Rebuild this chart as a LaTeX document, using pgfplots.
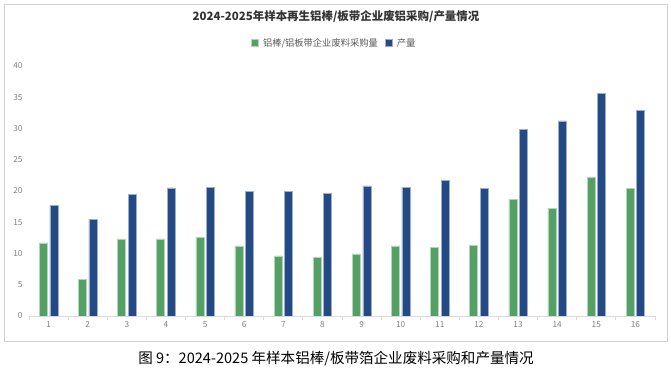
\documentclass[border=0pt]{standalone}
\usepackage{pgfplots}
\pgfplotsset{compat=1.18}
\usepackage{fontspec}
\setmainfont{Noto Sans CJK SC}
\definecolor{cgreen}{HTML}{55A064}
\definecolor{cblue}{HTML}{234A85}
\definecolor{ctick}{HTML}{808080}
\definecolor{caxis}{HTML}{D9D9D9}
\definecolor{cframe}{HTML}{D0D0D0}
\begin{document}
\begin{tikzpicture}
\useasboundingbox (0,0) rectangle (671bp,374bp);
\fill[white] (0,0) rectangle (671bp,374bp);
\draw[cframe, line width=0.8bp] (4bp,33bp) rectangle (667bp,370bp);
\begin{axis}[
  scale only axis,
  width=626bp, height=250bp,
  at={(29bp,58bp)}, anchor=south west,
  xmin=0.5, xmax=16.5, ymin=0, ymax=40,
  ybar, bar width=8bp,
  axis y line*=left,
  y axis line style={draw=none},
  axis x line*=bottom,
  x axis line style={caxis, line width=0.8bp, -},
  xtick={1,...,16},
  minor xtick={0.5,1.5,...,16.5},
  major tick length=0pt,
  minor tick length=4bp,
  tick align=outside,
  minor x tick style={caxis, line width=0.8bp},
  ytick={0,5,...,40},
  /pgf/number format/assume math mode=true,
  ticklabel style={font=\fontsize{8.3}{9}\selectfont, text=ctick},
  xticklabel style={yshift=-2bp},
  yticklabel style={xshift=-3bp},
  legend style={at={(0.4875,1)}, anchor=center, yshift=23bp, draw=none, fill=none,
    font=\fontsize{9.3}{10}\selectfont, text=black!65,
    /tikz/every odd column/.append style={column sep=2.5bp},
    /tikz/every even column/.append style={column sep=5bp}},
  legend columns=2,
  legend image code/.code={\fill[#1] (0bp,-3.5bp) rectangle (7bp,3.5bp);},
]
\addplot[fill=cgreen, draw=white!55!cgreen, line width=0.5bp, bar shift=-5.3bp] coordinates {
(1,11.7) (2,5.9) (3,12.35) (4,12.35) (5,12.6) (6,11.2) (7,9.6) (8,9.4)
(9,9.95) (10,11.2) (11,11.0) (12,11.3) (13,18.6) (14,17.2) (15,22.2) (16,20.4)};
\addplot[fill=cblue, draw=white!55!cblue, line width=0.5bp, bar shift=5.3bp] coordinates {
(1,17.7) (2,15.5) (3,19.4) (4,20.5) (5,20.6) (6,19.9) (7,19.9) (8,19.6)
(9,20.8) (10,20.6) (11,21.7) (12,20.4) (13,29.9) (14,31.2) (15,35.6) (16,32.9)};
\legend{铝棒/铝板带企业废料采购量, 产量}
\end{axis}
\node[font=\fontsize{11.5}{12}\selectfont\bfseries, text=black!80] at (336bp,357bp) {2024-2025年样本再生铝棒/板带企业废铝采购/产量情况};
\node[font=\fontsize{14.6}{16}\selectfont, text=black] at (336bp,15bp) {图 9：2024-2025 年样本铝棒/板带箔企业废料采购和产量情况};
\end{tikzpicture}
\end{document}
